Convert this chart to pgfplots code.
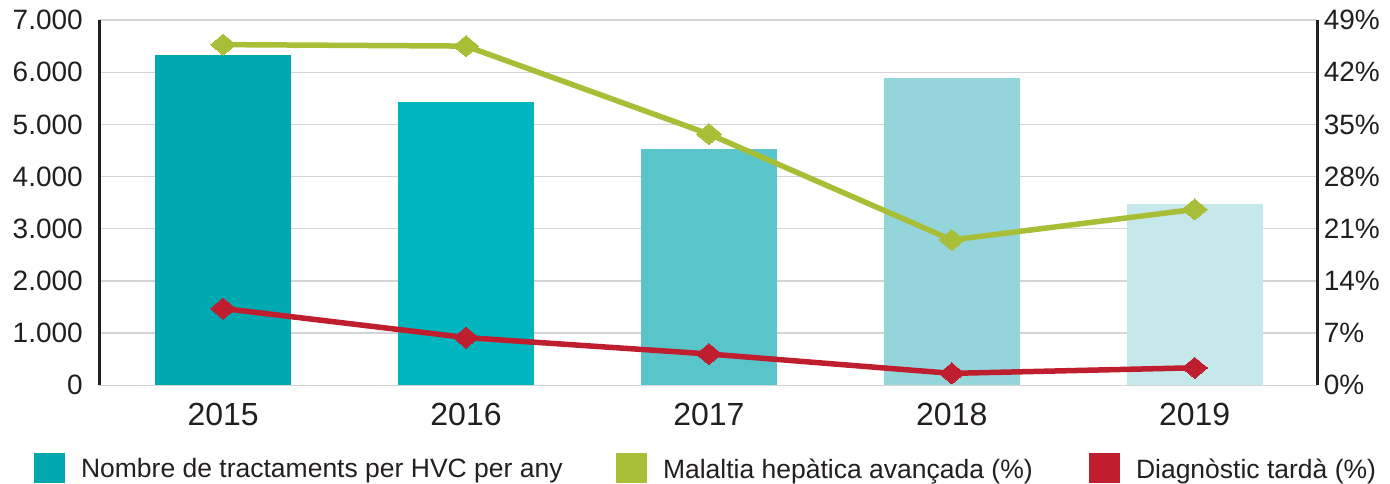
\documentclass[border=0pt]{standalone}
\usepackage{fontspec}
\setmainfont{Liberation Sans}
\usepackage{pgfplots}
\pgfplotsset{compat=1.18}
\definecolor{cA}{HTML}{00A9B0}
\definecolor{cB}{HTML}{00B5BE}
\definecolor{cC}{HTML}{59C5CA}
\definecolor{cD}{HTML}{94D5DB}
\definecolor{cE}{HTML}{C7E8EB}
\definecolor{cG}{HTML}{A9BE37}
\definecolor{cR}{HTML}{BE1E2D}
\definecolor{gridgray}{HTML}{D4D4D4}
\definecolor{axisblack}{HTML}{231F20}
\definecolor{txt}{HTML}{231F20}
\begin{document}
\begin{tikzpicture}
\begin{axis}[
  at={(0pt,0pt)}, anchor=south west,
  scale only axis, width=1218pt, height=365.3pt,
  xmin=-0.51, xmax=4.505, ymin=0, ymax=7000,
  xtick={0,1,2,3,4}, xticklabels={2015,2016,2017,2018,2019},
  ytick={0,1000,2000,3000,4000,5000,6000,7000},
  ymajorgrids, major grid style={color=gridgray, line width=1.3pt},
  axis y line*=left, axis x line*=bottom,
  axis line style={-},
  x axis line style={draw=none},
  y axis line style={line width=2.8pt, color=axisblack},
  major tick length=0pt,
  /pgf/number format/1000 sep={.},
  /pgf/number format/assume math mode=true,
  ybar, bar width=136pt, bar shift=0pt,
  ticklabel style={font=\fontsize{28}{30}\selectfont, text=txt},
  xticklabel style={font=\fontsize{32}{34}\selectfont, yshift=-14pt},
  yticklabel style={xshift=-13pt},
  clip=false
]
\addplot[fill=cA, draw=none] coordinates {(0,6329)};
\addplot[fill=cB, draw=none] coordinates {(1,5433)};
\addplot[fill=cC, draw=none] coordinates {(2,4527)};
\addplot[fill=cD, draw=none] coordinates {(3,5882)};
\addplot[fill=cE, draw=none] coordinates {(4,3470)};
\end{axis}
\begin{axis}[
  at={(0pt,0pt)}, anchor=south west,
  scale only axis, width=1218pt, height=365.3pt,
  xmin=-0.51, xmax=4.505, ymin=0, ymax=49,
  axis x line=none, axis y line*=right,
  axis line style={-},
  y axis line style={line width=2.8pt, color=axisblack},
  ytick={0,7,14,21,28,35,42,49},
  yticklabel={\pgfmathprintnumber{\tick}\%},
  /pgf/number format/assume math mode=true,
  yticklabel style={font=\fontsize{28}{30}\selectfont, text=txt, xshift=3pt},
  major tick length=0pt,
  legend columns=3,
  legend image code/.code={\fill[#1, draw=none] (0pt,-13.5pt) rectangle (30.5pt,16.5pt); \path[draw=none, fill=none] (0pt,-30pt) rectangle (47pt,30pt);},
  legend style={at={(-0.0536,-0.3113)}, anchor=south west, draw=none, fill=none,
    inner sep=0pt, outer sep=0pt, nodes={inner sep=0pt, outer sep=0pt},
    font=\fontsize{26.5}{28}\selectfont, text=txt},
  legend cell align=left,
  clip=false
]
\addlegendimage{fill=cA}
\addlegendentry{\makebox[535pt][l]{Nombre de tractaments per HVC per any}}
\addplot[color=cG, line width=5.5pt, mark=diamond*, mark size=10.5pt,
  mark options={xscale=1.6, solid, line width=0pt}]
  coordinates {(0,45.7)(1,45.5)(2,33.7)(3,19.5)(4,23.6)};
\addlegendentry{\makebox[426pt][l]{Malaltia hepàtica avançada (\%)}}
\addplot[color=cR, line width=5.5pt, mark=diamond*, mark size=10.5pt,
  mark options={xscale=1.6, solid, line width=0pt}]
  coordinates {(0,10.3)(1,6.4)(2,4.2)(3,1.6)(4,2.35)};
\addlegendentry{Diagnòstic tardà (\%)}
\end{axis}
\pgfresetboundingbox
\path (-99.3pt,-97.7pt) rectangle (1290.7pt,385.3pt);
\end{tikzpicture}
\end{document}
